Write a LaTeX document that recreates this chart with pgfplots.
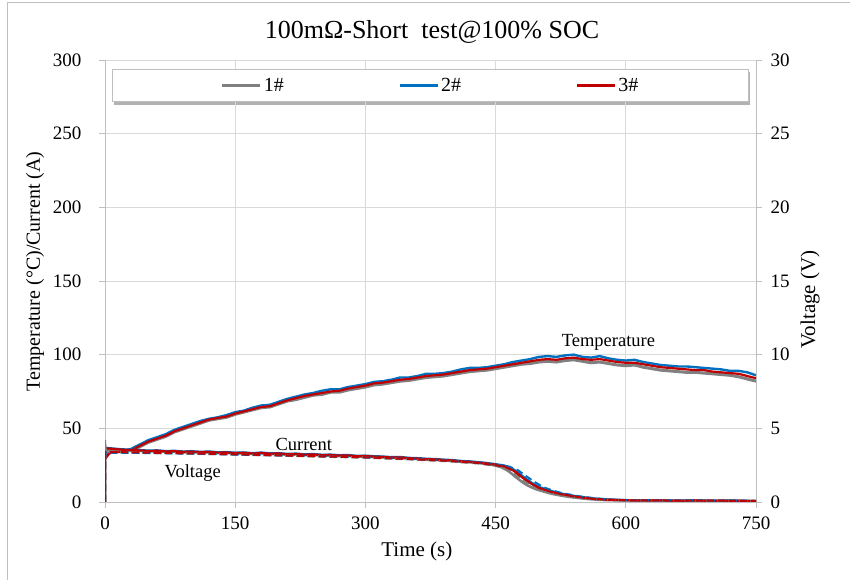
\documentclass[border=0pt]{standalone}
\usepackage{fontspec}
\setmainfont{Liberation Serif}
\usepackage{pgfplots}
\pgfplotsset{compat=1.18}
\usetikzlibrary{backgrounds}
\definecolor{cgray}{HTML}{808080}
\definecolor{cblue}{HTML}{0070C0}
\definecolor{cred}{HTML}{C00000}
\definecolor{gridc}{HTML}{D9D9D9}
\definecolor{axisc}{HTML}{BFBFBF}

\newcommand{\tickfont}{\fontsize{19}{22}\selectfont}
\newcommand{\notefont}{\fontsize{18.5}{22}\selectfont}

\begin{document}
\begin{tikzpicture}[x=1pt,y=1pt]
\path[use as bounding box] (0,0) rectangle (850,580);
\draw[axisc, line width=1pt] (7,0) -- (7,577) -- (850,577);
\node[font=\fontsize{26}{30}\selectfont] at (432,548) {100mΩ-Short\ \ test@100\% SOC};

\begin{axis}[
  at={(105pt,78pt)}, anchor=origin, scale only axis,
  width=651pt, height=442pt,
  xmin=0, xmax=750, ymin=0, ymax=300,
  xtick={0,150,...,750}, ytick={0,50,...,300},
  axis x line*=bottom, axis y line*=left,
  axis line style={axisc, line width=0.8pt, -},
  tick align=outside, major tick length=6pt,
  tick style={axisc, line width=0.8pt},
  grid=major, grid style={gridc, line width=0.8pt},
  ticklabel style={font=\tickfont},
  xticklabel style={yshift=-5pt},
  yticklabel style={xshift=-14pt},
  /pgf/number format/assume math mode=true,
  xlabel={Time (s)}, ylabel={Temperature (°C)/Current (A)},
  xlabel style={font=\fontsize{21}{24}\selectfont, at={(axis description cs:0.479,-0.113)}, anchor=center},
  ylabel style={font=\fontsize{20}{23}\selectfont, at={(axis description cs:-0.1075,0.5215)}, anchor=center},
  legend columns=3,
  legend style={name=lgd, at={(0.5,0.943)}, anchor=center, draw=axisc, fill=white,
    font=\fontsize{20}{23}\selectfont, inner xsep=108pt, inner ysep=7pt,
    /tikz/every even column/.append style={column sep=112pt}},
  legend image code/.code={\draw[#1, line width=3.2pt] (0pt,0pt) -- (38pt,0pt);},
]
% temperature of cells 1#, 2#, 3#
\addplot[cgray, line width=3pt] coordinates {
(0,33)(5,36)(10,35)(20,34)(30,35)(40,37.5)(50,40.5)(60,42.5)(70,44.5)(80,47.5)(90,49.5)(100,51.5)(110,53.5)(120,55.5)(130,56.5)(140,57.5)(150,59.5)(160,61)(170,62.5)(180,64)(190,64.5)(200,66.5)(210,68.5)(220,69.5)(230,71)(240,72.5)(250,73)(260,74.5)(270,74.5)(280,76)(290,77)(300,78)(310,79.5)(320,80)(330,81)(340,82)(350,82.5)(360,83.5)(370,84.5)(380,85)(390,85.5)(400,86.5)(410,87.5)(420,88.5)(430,89)(440,89.5)(450,90.5)(460,91.5)(470,92.5)(480,93.5)(490,94)(500,95)(510,95.5)(520,95)(530,96)(540,96.5)(550,95.5)(560,94.5)(570,95)(580,94)(590,93)(600,92.5)(610,93)(620,91.5)(630,90.5)(640,89.5)(650,89)(660,88.5)(670,88)(680,88)(690,87.5)(700,87)(710,86.5)(720,86)(730,85)(740,83.5)(750,82)};
\addlegendentry{1\#}
\addplot[cblue, line width=2.4pt] coordinates {
(0,31)(5,33)(10,34)(20,34.5)(30,36)(40,39)(50,42)(60,44)(70,46)(80,49)(90,51)(100,53)(110,55)(120,56.5)(130,57.5)(140,59)(150,61)(160,62)(170,64)(180,65.5)(190,66)(200,68)(210,70)(220,71.5)(230,73)(240,74)(250,75.5)(260,76.5)(270,76.5)(280,78)(290,79)(300,80)(310,81.5)(320,82)(330,83)(340,84.5)(350,84.5)(360,85.5)(370,87)(380,87)(390,87.5)(400,88.5)(410,90)(420,91)(430,91)(440,91.5)(450,92.5)(460,93.5)(470,95)(480,96)(490,97)(500,98.5)(510,99)(520,98.5)(530,99.5)(540,100)(550,98.5)(560,98)(570,99)(580,97.5)(590,96.5)(600,96)(610,96.5)(620,95)(630,94)(640,93)(650,92.5)(660,92)(670,92)(680,91.5)(690,91)(700,90.5)(710,90)(720,89)(730,89)(740,88)(750,86)};
\addlegendentry{2\#}
\addplot[cred, line width=2.2pt] coordinates {
(0,29)(5,33)(10,34)(20,34)(30,35)(40,38)(50,41)(60,43)(70,45)(80,48)(90,50)(100,52)(110,54)(120,56)(130,57)(140,58)(150,60)(160,61.5)(170,63)(180,64.5)(190,65)(200,67)(210,69)(220,70.5)(230,72)(240,73)(250,74)(260,75)(270,75.5)(280,77)(290,78)(300,79)(310,80.5)(320,81)(330,82)(340,83)(350,83.5)(360,84.5)(370,85.5)(380,86)(390,86.5)(400,87.5)(410,88.5)(420,89.5)(430,90)(440,90.5)(450,91.5)(460,92.5)(470,93.5)(480,94.5)(490,95.5)(500,96.5)(510,97)(520,96.5)(530,97.5)(540,98)(550,97)(560,96.5)(570,97)(580,96)(590,95)(600,94.5)(610,94.5)(620,93.5)(630,92.5)(640,91.5)(650,91)(660,90.5)(670,90)(680,89.5)(690,89.5)(700,88.5)(710,88)(720,87.5)(730,87)(740,85.5)(750,84)};
\addlegendentry{3\#}
% short-circuit current of cells 1#, 2#, 3#
\addplot[cgray, line width=2.6pt, forget plot] coordinates {
(0,0)(0,36)(10,35.6)(20,35.2)(30,34.9)(40,34.7)(50,34.3)(60,34.5)(70,34)(80,34.2)(90,33.7)(100,33.9)(110,33.5)(120,33.7)(130,33.2)(140,33.3)(150,32.9)(160,33.1)(170,32.6)(180,33)(190,32.5)(200,32.6)(210,32.1)(220,32.3)(230,31.8)(240,32)(250,31.5)(260,31.6)(270,31.2)(280,31.3)(290,30.8)(300,30.9)(310,30.5)(320,30.3)(330,29.9)(340,30)(350,29.4)(360,29.2)(370,28.8)(380,28.6)(390,28.2)(400,27.9)(410,27.3)(420,27)(430,26.5)(440,25.8)(450,24.8)(457,23.5)(462,22)(467,20)(472,17.5)(477,15.2)(482,13)(487,11.2)(492,9.8)(497,8.6)(507,6.8)(517,5.3)(527,4.2)(537,3.3)(547,2.6)(557,2)(567,1.6)(577,1.3)(600,1.1)(620,0.9)(640,1)(660,0.7)(680,0.9)(700,0.7)(720,0.8)(740,0.6)(750,0.5)};
\addplot[cblue, line width=2.2pt, forget plot] coordinates {
(0,0)(0,36.8)(10,36.3)(20,35.8)(30,35.5)(40,35.3)(50,34.9)(60,35.1)(70,34.6)(80,34.8)(90,34.3)(100,34.5)(110,34.1)(120,34.3)(130,33.8)(140,33.9)(150,33.5)(160,33.7)(170,33.2)(180,33.6)(190,33.1)(200,33.2)(210,32.7)(220,32.9)(230,32.4)(240,32.6)(250,32.1)(260,32.2)(270,31.8)(280,31.9)(290,31.4)(300,31.5)(310,31.1)(320,30.9)(330,30.5)(340,30.6)(350,30)(360,29.8)(370,29.4)(380,29.2)(390,28.8)(400,28.5)(410,27.9)(420,27.6)(430,27.1)(440,26.5)(450,25.7)(460,24.8)(466,23.6)(471,22)(476,20)(481,17.6)(486,15.3)(491,13.3)(496,11.5)(501,10)(511,8)(521,6.4)(531,5.1)(541,4.1)(551,3.3)(561,2.6)(571,2.1)(581,1.7)(600,1.3)(620,1.1)(640,1.2)(660,0.9)(680,1.1)(700,0.9)(720,1)(740,0.8)(750,0.7)};
\addplot[cred, line width=2.2pt, forget plot] coordinates {
(0,0)(0,36.5)(10,36)(20,35.5)(30,35.2)(40,35)(50,34.6)(60,34.8)(70,34.3)(80,34.5)(90,34)(100,34.2)(110,33.8)(120,34)(130,33.5)(140,33.6)(150,33.2)(160,33.4)(170,32.9)(180,33.3)(190,32.8)(200,32.9)(210,32.4)(220,32.6)(230,32.1)(240,32.3)(250,31.8)(260,31.9)(270,31.5)(280,31.6)(290,31.1)(300,31.2)(310,30.8)(320,30.6)(330,30.2)(340,30.3)(350,29.7)(360,29.5)(370,29.1)(380,28.9)(390,28.5)(400,28.2)(410,27.6)(420,27.3)(430,26.8)(440,26.2)(450,25.3)(460,24.2)(465,23)(470,21.5)(475,19.5)(480,17)(485,14.8)(490,12.8)(495,11)(500,9.5)(510,7.6)(520,6)(530,4.8)(540,3.8)(550,3)(560,2.3)(570,1.8)(580,1.5)(600,1.2)(620,1)(640,1.1)(660,0.8)(680,1)(700,0.8)(720,0.9)(740,0.7)(750,0.6)};
\node[font=\notefont] at (axis cs:580,108.5) {Temperature};
\node[font=\notefont] at (axis cs:229,39.3) {Current};
\node[font=\notefont] at (axis cs:101,19.5) {Voltage};
\end{axis}

% soft shadow under the legend box
\begin{pgfonlayer}{background}
\fill[black, opacity=0.3] ([xshift=1.5pt,yshift=-3pt]lgd.south west) rectangle ([xshift=1.5pt,yshift=-3pt]lgd.north east);
\end{pgfonlayer}

\begin{axis}[
  at={(105pt,78pt)}, anchor=origin, scale only axis,
  width=651pt, height=442pt,
  xmin=0, xmax=750, ymin=0, ymax=30,
  ytick={0,5,...,30},
  axis x line=none, axis y line*=right,
  axis line style={axisc, line width=0.8pt, -},
  tick align=outside, major tick length=6pt,
  tick style={axisc, line width=0.8pt},
  ticklabel style={font=\tickfont},
  yticklabel style={xshift=5pt},
  /pgf/number format/assume math mode=true,
  ylabel={Voltage (V)},
  ylabel style={font=\fontsize{21}{24}\selectfont, at={(axis description cs:1.083,0.458)}, anchor=center},
]
% cell voltage of 1#, 2#, 3# during the short
\addplot[cgray, line width=2.2pt, dash pattern=on 7pt off 4pt] coordinates {
(0,0)(0,4.2)(1,3.4)(10,3.38)(30,3.36)(50,3.34)(100,3.28)(150,3.22)(200,3.15)(250,3.08)(300,3.01)(350,2.9)(400,2.75)(430,2.62)(450,2.46)(457,2.36)(467,2.1)(477,1.65)(487,1.25)(497,0.92)(507,0.73)(517,0.57)(537,0.36)(557,0.22)(577,0.14)(600,0.11)(650,0.1)(700,0.08)(750,0.06)};
\addplot[cblue, line width=2pt, dash pattern=on 7pt off 4pt] coordinates {
(0,0)(0,3.35)(10,3.34)(30,3.33)(50,3.32)(100,3.28)(150,3.22)(200,3.16)(250,3.1)(300,3.03)(350,2.93)(400,2.8)(430,2.67)(450,2.53)(466,2.4)(476,2.15)(486,1.72)(496,1.32)(506,0.98)(516,0.78)(526,0.61)(546,0.39)(566,0.24)(586,0.16)(600,0.13)(650,0.11)(700,0.1)(750,0.08)};
\addplot[cred, line width=2pt, dash pattern=on 7pt off 4pt] coordinates {
(0,0)(0,3.4)(10,3.39)(30,3.37)(50,3.35)(100,3.3)(150,3.24)(200,3.17)(250,3.1)(300,3.03)(350,2.92)(400,2.78)(430,2.65)(450,2.5)(460,2.4)(470,2.15)(480,1.7)(490,1.3)(500,0.95)(510,0.76)(520,0.6)(540,0.38)(560,0.23)(580,0.15)(600,0.12)(650,0.1)(700,0.09)(750,0.07)};
\end{axis}
\end{tikzpicture}
\end{document}
